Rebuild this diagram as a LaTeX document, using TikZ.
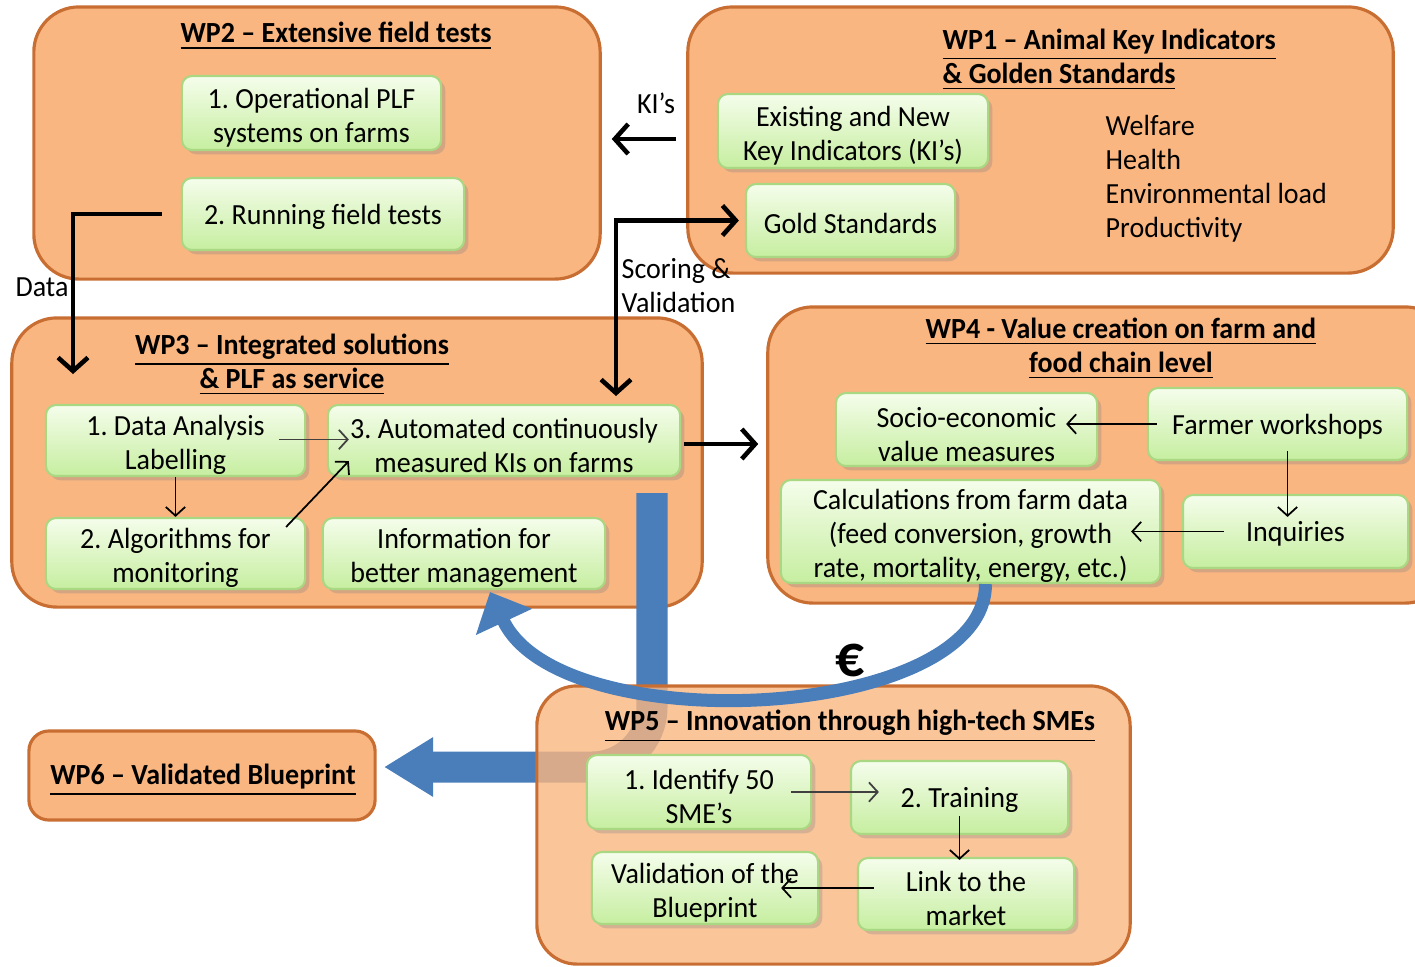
\documentclass[tikz,border=0pt]{standalone}
\usepackage{fontspec}
\setmainfont{Carlito}[FakeStretch=0.96]
\usetikzlibrary{arrows.meta,shadows,calc}
\definecolor{wpfill}{RGB}{249,182,128}
\definecolor{wpdraw}{RGB}{200,110,50}
\definecolor{gtop}{RGB}{245,253,235}
\definecolor{gbot}{RGB}{198,238,160}
\definecolor{gdraw}{RGB}{170,215,130}
\definecolor{blu}{RGB}{74,126,187}
\newcommand{\fs}{\rule{0pt}{8.4pt}}
\begin{document}
\frenchspacing
\begin{tikzpicture}[x=0.01cm,y=-0.01cm,
  every node/.style={font=\fontsize{8.3}{9.7}\selectfont, inner sep=0pt},
  wp/.style={draw=wpdraw, fill=wpfill, line width=0.9pt, rounded corners=0.45cm},
  gbox/.style={draw=gdraw, line width=0.6pt, rounded corners=0.1cm, top color=gtop, bottom color=gbot, align=center,
    execute at begin node={\rule{0pt}{7.3pt}},
    drop shadow={shadow xshift=1.2pt,shadow yshift=-1.2pt,opacity=0.3}},
  ttl/.style={font=\fontsize{8.3}{9.7}\selectfont\bfseries, align=center, execute at begin node={\rule{0pt}{8.2pt}}},
  thickarr/.style={line width=1.3pt, -{Straight Barb[length=3.8pt,width=8.5pt]}},
  thinarr/.style={line width=0.5pt, -{Straight Barb[length=2.5pt,width=5.5pt]}},
]
\clip (0,0) rectangle (1415,966);
% WP boxes
\node[wp, minimum width=5.66cm, minimum height=2.72cm] (wp2) at (317,143) {};
\node[wp, minimum width=7.05cm, minimum height=2.66cm] (wp1) at (1040.5,140) {};
\node[wp, minimum width=6.90cm, minimum height=2.89cm] (wp3) at (357,462.5) {};
\node[wp, minimum width=6.82cm, minimum height=2.96cm] (wp4) at (1109,455) {};
\node[wp, rounded corners=0.2cm, minimum width=3.46cm, minimum height=0.89cm] (wp6) at (202,775.5) {};
% titles
\node[ttl] (t2) at (336,32) {\underline{WP2 – Extensive field tests}};
\node[ttl, align=left, anchor=west] (t1) at (942,55) {\fs\underline{WP1 – Animal Key Indicators}\\\underline{\& Golden Standards}};
\node[ttl] (t3) at (292,360) {\fs\underline{WP3 – Integrated solutions}\\\underline{\& PLF as service}};
\node[ttl] (t4) at (1121,344) {\fs\underline{WP4 - Value creation on farm and}\\\underline{food chain level}};
\node[ttl] (t6) at (203,776) {\underline{WP6 – Validated Blueprint}};
% WP2 boxes
\node[gbox, minimum width=2.59cm, minimum height=0.74cm] (op) at (311.5,113) {\fs 1. Operational PLF\\systems on farms};
\node[gbox, minimum width=2.82cm, minimum height=0.72cm] (run) at (323,214) {2. Running field tests};
% WP1 boxes
\node[gbox, minimum width=2.70cm, minimum height=0.74cm] (exist) at (853,131) {\fs Existing and New\\Key Indicators (KI’s)};
\node[gbox, minimum width=2.09cm, minimum height=0.73cm] (gold) at (850.5,220.5) {Gold Standards};
\node[align=left, anchor=west] (kilist) at (1105,174) {\fs Welfare\\Health\\Environmental load\\Productivity};
% WP3 boxes
\node[gbox, minimum width=2.59cm, minimum height=0.71cm] (d1) at (175.5,440.5) {\fs 1. Data Analysis\\Labelling};
\node[gbox, minimum width=3.52cm, minimum height=0.71cm] (d3) at (504,440.5) {\fs 3. Automated continuously\\measured KIs on farms};
\node[gbox, minimum width=2.59cm, minimum height=0.71cm] (d2) at (175.5,553.5) {\fs 2. Algorithms for\\monitoring};
\node[gbox, minimum width=2.82cm, minimum height=0.71cm] (info) at (464,553.5) {\fs Information for\\better management};
% WP4 boxes
\node[gbox, minimum width=2.61cm, minimum height=0.73cm] (socio) at (966.5,429.5) {\fs Socio-economic\\value measures};
\node[gbox, minimum width=2.59cm, minimum height=0.72cm] (farmer) at (1277.5,424) {Farmer workshops};
\node[gbox, minimum width=3.79cm, minimum height=1.03cm] (calc) at (970.5,531.5) {\fs Calculations from farm data\\(feed conversion, growth\\rate, mortality, energy, etc.)};
\node[gbox, minimum width=2.25cm, minimum height=0.73cm] (inq) at (1295.5,531.5) {Inquiries};
% labels
\node (kilbl) at (656,103) {KI’s};
\node (datalbl) at (42,287) {Data};
\node[align=left, anchor=west] (scorelbl) at (621,286) {Scoring \&\\Validation};
% thick black arrows
\coordinate (dataend) at (73,374);
\coordinate (scoreend) at (616,396);
\draw[thickarr] ([xshift=-0.1cm]wp1.west |- 0,139) -- ([xshift=0.1cm]wp2.east |- 0,139);
\draw[thickarr] ([xshift=-0.19cm]run.west) -| (dataend);
\draw[line width=1.3pt, {Straight Barb[length=3.8pt,width=8.5pt]}-{Straight Barb[length=3.8pt,width=8.5pt]}] (scoreend) |- ([xshift=-0.06cm]gold.west);
\draw[thickarr] ([xshift=0.03cm]d3.east |- 0,444) -- ([xshift=-0.08cm]wp4.west |- 0,444);
% thin arrows WP3
\draw[thinarr, black!75] ([xshift=-0.27cm,yshift=0.01cm]d1.east) -- ([xshift=0.22cm,yshift=0.01cm]d3.west);
\draw[thinarr] (d1.south) -- (d2.north);
\draw[thinarr] ([xshift=-0.2cm,yshift=-0.1cm]d2.north east) -- ([xshift=0.22cm,yshift=0.16cm]d3.south west);
% thin arrows WP4
\draw[thinarr] ([xshift=0.1cm]farmer.west) -- ([xshift=-0.32cm]socio.east |- farmer.west);
\draw[thinarr] ([xshift=0.1cm,yshift=0.1cm]farmer.south) -- ([xshift=0.1cm,yshift=-0.23cm]farmer.south |- inq.north);
\draw[thinarr] ([xshift=0.42cm]inq.west) -- ([xshift=-0.3cm]calc.east);
% blue band to WP6
\coordinate (bandtop) at (652,493);
\coordinate (bandend) at (384,767);
\draw[blu, line width=0.31cm, rounded corners=0.6cm, -{Triangle[width=0.56cm,length=0.49cm]}] (bandtop) |- (bandend);
% WP5
\node[wp, fill opacity=0.8, rounded corners=0.4cm, minimum width=5.93cm, minimum height=2.78cm] (wp5) at (833.5,825) {};
% curved money arrow
\coordinate (arcend) at (490,592);
\draw[blu, line width=0.13cm, -{Triangle[width=0.6cm,length=0.33cm]}] ([xshift=0.15cm]calc.south) .. controls (985,722) and (560,742) .. (arcend);
\node[font=\fontsize{17}{20}\selectfont\bfseries] (euro) at (850,660) {€};
\node[ttl] (t5) at (850,722) {\underline{WP5 – Innovation through high-tech SMEs}};
\node[gbox, minimum width=2.24cm, minimum height=0.74cm] (ident) at (699,792) {\fs 1. Identify 50\\SME’s};
\node[gbox, minimum width=2.17cm, minimum height=0.73cm] (train) at (959.5,797.5) {2. Training};
\node[gbox, minimum width=2.26cm, minimum height=0.72cm] (valid) at (705,888) {\fs Validation of the\\Blueprint};
\node[gbox, minimum width=2.16cm, minimum height=0.72cm] (link) at (966,894) {\fs Link to the\\market};
\draw[thinarr, black!75] ([xshift=-0.21cm]ident.east) -- ([xshift=0.29cm]train.west |- ident.east);
\draw[thinarr] ([yshift=0.19cm]train.south) -- ([yshift=-0.03cm]train.south |- link.north);
\draw[thinarr] ([xshift=0.17cm]link.west |- 0,888) -- ([xshift=-0.38cm]valid.east |- 0,888);
\end{tikzpicture}
\end{document}
